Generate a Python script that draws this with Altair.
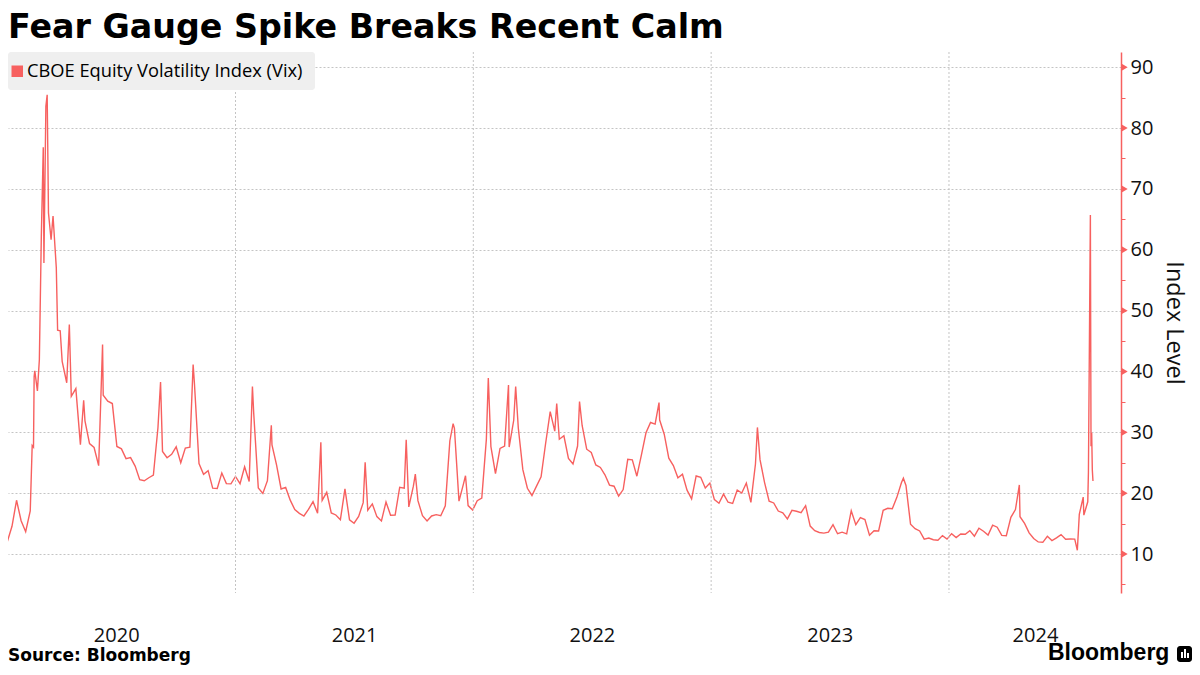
import altair as alt
import pandas as pd

RED = "#f7605f"
GRID = "#c4c4c4"
INK = "#111111"

# Weekly (Friday) closes of the CBOE Volatility Index
closes_2020 = [14.02, 12.56, 12.10, 14.56, 18.84, 15.47, 13.68, 17.08, 40.11, 41.94,
               57.83, 66.04, 65.54, 46.80, 41.67, 38.15, 35.93, 37.19, 27.98, 31.89,
               28.16, 27.51, 24.52, 36.09, 35.12, 34.73, 27.68, 27.29, 25.68, 25.84,
               24.46, 22.21, 22.05, 22.54, 22.96, 30.75, 26.87, 25.83, 26.38, 27.63,
               25.00, 27.41, 27.55, 38.02, 24.86, 23.10, 23.70, 20.84, 20.79, 23.31,
               21.57, 21.53]
closes_2021 = [22.75, 21.56, 24.34, 21.91, 33.09, 20.87, 19.97, 22.05, 27.95, 24.66,
               20.69, 20.95, 18.86, 17.33, 16.69, 16.25, 17.33, 18.61, 16.69, 18.81,
               20.15, 16.76, 16.42, 15.65, 20.70, 15.62, 15.07, 16.18, 18.45, 17.20,
               18.24, 16.15, 15.45, 18.56, 16.39, 16.41, 20.95, 20.81, 17.75, 21.15,
               18.77, 16.30, 15.43, 16.26, 16.48, 16.29, 17.91, 28.62, 30.67, 18.69,
               21.57, 17.96, 17.22]
closes_2022 = [18.76, 19.19, 28.85, 27.66, 23.22, 27.36, 27.75, 27.59, 31.98, 30.75,
               23.87, 20.81, 19.63, 21.16, 22.70, 28.21, 33.40, 30.19, 28.87, 29.43,
               25.72, 24.79, 27.75, 31.13, 27.23, 26.70, 24.64, 24.23, 23.03, 21.33,
               21.15, 19.53, 20.60, 25.56, 25.47, 22.79, 26.30, 29.92, 31.62, 31.36,
               32.02, 29.69, 25.75, 24.55, 22.52, 23.12, 20.50, 19.06, 22.83, 22.62,
               20.87, 21.67]
closes_2023 = [18.95, 18.35, 19.85, 18.51, 18.33, 20.53, 20.02, 21.67, 18.49, 24.80,
               25.51, 21.74, 18.70, 18.40, 17.07, 16.77, 15.78, 17.19, 17.03, 16.81,
               17.95, 14.60, 13.83, 13.54, 13.44, 13.59, 14.83, 13.34, 13.60, 13.33,
               17.10, 14.84, 15.98, 15.68, 13.09, 13.84, 13.79, 17.20, 17.52, 17.45,
               19.32, 21.71, 21.27, 14.91, 14.17, 13.80, 12.46, 12.63, 12.35, 12.28,
               13.03, 12.45]
closes_2024 = [13.35, 12.70, 13.30, 13.26, 13.85, 12.93, 14.24, 13.75, 13.11, 14.74,
               14.41, 13.06, 13.01, 16.03, 17.31, 16.14, 15.03, 13.49, 12.55, 11.99,
               11.93, 12.92, 12.22, 12.66, 13.20, 12.44, 12.48, 12.46, 16.52, 16.39,
               23.39, 22.00]

# Intraday extremes between the weekly readings
spike_dates = ["2020-02-24", "2020-02-26", "2020-02-27", "2020-03-03", "2020-03-09",
               "2020-03-12", "2020-03-16", "2020-03-18", "2020-03-24", "2020-04-01",
               "2020-04-07", "2020-04-21", "2020-05-13", "2020-06-11", "2020-09-08",
               "2020-10-28", "2021-01-27", "2021-02-25", "2021-05-12", "2021-07-19",
               "2021-09-20", "2021-10-04", "2021-12-01", "2021-12-20", "2022-01-24",
               "2022-02-24", "2022-03-07", "2022-05-09", "2022-06-13", "2022-10-13",
               "2023-03-13", "2023-10-23", "2024-04-18", "2024-07-16", "2024-07-25",
               "2024-08-01", "2024-08-05", "2024-08-06", "2024-08-07", "2024-08-08"]
spike_vals = [27.85, 27.56, 39.16, 36.82, 62.12,
              76.83, 83.56, 85.47, 61.67, 57.06,
              46.70, 47.70, 35.28, 44.44, 38.28,
              41.16, 37.51, 31.16, 28.38, 25.09,
              28.79, 23.14, 31.42, 22.87, 38.94,
              37.79, 37.52, 34.75, 35.05, 34.88,
              30.81, 22.46, 21.36, 10.62, 19.36,
              18.59, 65.73, 27.71, 29.94, 23.79]

year_starts = ["2021-01-01", "2022-01-01", "2023-01-01", "2024-01-01"]
y_ticks = list(range(5, 95, 5))
y_major = list(range(10, 95, 10))

weekly_vals = closes_2020 + closes_2021 + closes_2022 + closes_2023 + closes_2024
weekly_dates = pd.date_range("2020-01-03", periods=len(weekly_vals), freq="W-FRI")
df = pd.DataFrame({
    "date": list(weekly_dates) + list(pd.to_datetime(spike_dates)),
    "vix": weekly_vals + spike_vals,
}).sort_values("date").reset_index(drop=True)

W, H = 1113, 541

xscale = alt.Scale(domain=[alt.DateTime(year=2020, month=1, date=17, hours=21),
                           alt.DateTime(year=2024, month=9, date=21)])
yscale = alt.Scale(domain=[3.6, 92.5], nice=False, zero=False)

x_axis = alt.Axis(
    values=[alt.DateTime(year=2020, month=7, date=2), alt.DateTime(year=2021, month=7, date=2),
            alt.DateTime(year=2022, month=7, date=2), alt.DateTime(year=2023, month=7, date=2),
            alt.DateTime(year=2024, month=5, date=12)],
    format="%Y", domain=False, ticks=False, tickSize=0, grid=False, title=None,
    labelFont="Open Sans", labelFontSize=20, labelColor=INK, labelPadding=42,
    labelBaseline="middle", labelFlush=False, labelOverlap=False)

y_axis = alt.Axis(
    orient="right", values=y_ticks,
    labelExpr="datum.value % 10 === 0 ? datum.label : ''",
    grid=True, gridDash=[2, 2], gridColor=GRID, gridWidth=1,
    gridOpacity={"condition": {"test": "datum.value % 10 === 0", "value": 1}, "value": 0},
    domainColor=RED, domainWidth=1.5, tickColor=RED, tickSize=4, tickWidth=1,
    labelPadding=5, labelFont="Open Sans", labelFontSize=20, labelColor=INK,
    title="Index Level", titleFont="Open Sans", titleFontSize=23.5, titleFontWeight="normal",
    titleColor=INK, titlePadding=9)

line = alt.Chart(df).mark_line(color=RED, strokeWidth=1.4, clip=True).encode(
    x=alt.X("date:T", scale=xscale, axis=x_axis),
    y=alt.Y("vix:Q", scale=yscale, axis=y_axis),
)

rules = alt.Chart(pd.DataFrame({"date": pd.to_datetime(year_starts)})).mark_rule(
    color=GRID, strokeDash=[2, 2], strokeWidth=1).encode(
    x=alt.X("date:T", scale=xscale, axis=x_axis))

tri = alt.Chart(pd.DataFrame({"vix": y_major})).mark_point(
    shape="triangle-right", filled=True, color=RED, size=55, opacity=1, strokeWidth=0).encode(
    x=alt.value(W + 3.5), y=alt.Y("vix:Q", scale=yscale, axis=y_axis))

one = pd.DataFrame({"k": [0]})


def box(x0, x1, y0, y1, color, radius=0):
    return alt.Chart(one).mark_rect(color=color, cornerRadius=radius).encode(
        x=alt.value(x0), x2=alt.value(x1), y=alt.value(y0), y2=alt.value(y1))


def label(text, x, y, font, size, weight="normal", baseline="alphabetic"):
    return alt.Chart(one).mark_text(
        text=text, font=font, fontSize=size, fontWeight=weight, color="#000000",
        align="left", baseline=baseline).encode(x=alt.value(x), y=alt.value(y))


legend_box = box(0, 307, 0, 38, "#efefef", 3)
legend_sq = box(3.5, 15, 13.5, 25, RED)
legend_txt = label("CBOE Equity Volatility Index (Vix)", 19, 19.5, "Open Sans", 18.3,
                   baseline="middle")

title = label("Fear Gauge Spike Breaks Recent Calm", 0, -14, "DejaVu Sans", 33.3, "bold")
source = label("Source: Bloomberg", 0, 609, "DejaVu Sans", 17, "bold")
logo = label("Bloomberg", 1040, 608, "Liberation Sans", 23, "bold")
icon = box(1169, 1184, 594, 610, "#000000", 3)
bar1 = box(1173, 1175, 600, 606, "#ffffff")
bar2 = box(1176, 1178, 597, 606, "#ffffff")
bar3 = box(1179, 1181, 601, 606, "#ffffff")

chart = alt.layer(
    line, rules, legend_box, legend_sq, legend_txt, tri, title, source, logo,
    icon, bar1, bar2, bar3
).properties(
    width=W, height=H,
    autosize=alt.AutoSizeParams(type="none"),
    padding={"left": 0, "top": 44, "right": 71, "bottom": 74},
    background="#ffffff",
).configure_view(strokeWidth=0)

chart.save("out.html", embed_options={"renderer": "svg", "actions": False})
